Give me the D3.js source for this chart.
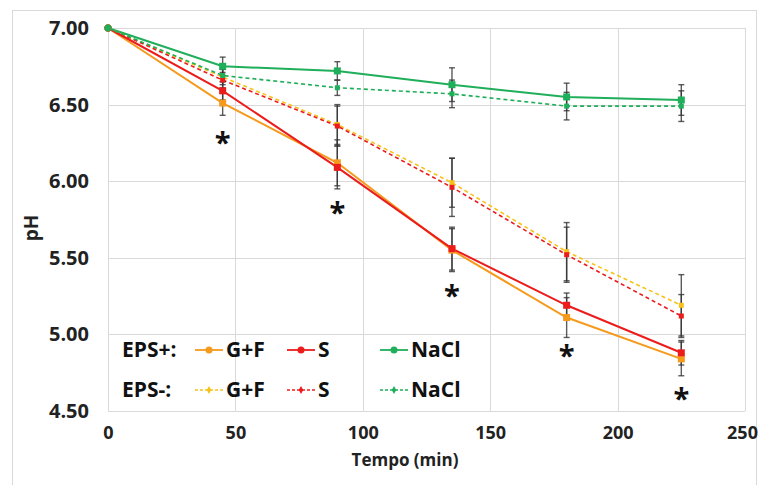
<!DOCTYPE html>
<html>
<head>
<meta charset="utf-8">
<script src="https://cdn.jsdelivr.net/npm/d3@7"></script>
<style>
    body { margin: 0; background: #fff; }
    svg { display: block; font-family: "Open Sans", sans-serif; font-weight: bold; }
</style>
</head>
<body>
<div id="chart"></div>
<script>
/*global d3*/
"use strict";

// time points (min)
var times = [0, 45, 90, 135, 180, 225];

// EPS+ series (pH)
var gfPlus = [7.00, 6.51, 6.12, 5.55, 5.11, 4.84];
var sPlus = [7.00, 6.59, 6.09, 5.56, 5.19, 4.88];
var naclPlus = [7.00, 6.75, 6.72, 6.63, 6.55, 6.53];
// EPS- series (pH)
var gfMinus = [7.00, 6.68, 6.37, 5.99, 5.54, 5.19];
var sMinus = [7.00, 6.66, 6.36, 5.96, 5.52, 5.12];
var naclMinus = [7.00, 6.69, 6.61, 6.57, 6.49, 6.49];

// standard deviations
var gfPlusErr = [0, 0.08, 0.15, 0.14, 0.13, 0.11];
var sPlusErr = [0, 0.06, 0.14, 0.14, 0.08, 0.08];
var naclPlusErr = [0, 0.06, 0.06, 0.11, 0.09, 0.10];
var gfMinusErr = [0, 0.05, 0.13, 0.16, 0.19, 0.20];
var sMinusErr = [0, 0.05, 0.13, 0.19, 0.18, 0.14];
var naclMinusErr = [0, 0.04, 0.05, 0.09, 0.09, 0.10];

// significance marks
var starTimes = [45, 90, 135, 180, 225];
var starPh = [6.29, 5.83, 5.29, 4.90, 4.62];

var xTicks = [0, 50, 100, 150, 200, 250];
var yTicks = [4.5, 5.0, 5.5, 6.0, 6.5, 7.0];

var seriesNames = ["G+F", "S", "NaCl"];

var width = 759;
var height = 485;
var margin = {top: 28, right: 14, bottom: 74, left: 108};
var plotW = width - margin.left - margin.right;
var plotH = height - margin.top - margin.bottom;

var x = d3.scaleLinear().domain([0, 250]).range([0, plotW]);
var y = d3.scaleLinear().domain([4.5, 7]).range([plotH, 0]);

var series = [
    {name: "G+F", group: "+", values: gfPlus, err: gfPlusErr, color: "#f59a1c", dashed: false},
    {name: "S", group: "+", values: sPlus, err: sPlusErr, color: "#ec1c1c", dashed: false},
    {name: "NaCl", group: "+", values: naclPlus, err: naclPlusErr, color: "#1fae5a", dashed: false},
    {name: "G+F", group: "-", values: gfMinus, err: gfMinusErr, color: "#f6c21a", dashed: true},
    {name: "S", group: "-", values: sMinus, err: sMinusErr, color: "#ec1c1c", dashed: true},
    {name: "NaCl", group: "-", values: naclMinus, err: naclMinusErr, color: "#1fae5a", dashed: true}
];

var svg = d3.select("#chart").append("svg")
    .attr("width", width)
    .attr("height", height);

// outer chart frame
svg.append("rect")
    .attr("x", 12.5).attr("y", 10.5)
    .attr("width", 744).attr("height", 490)
    .attr("fill", "none")
    .attr("stroke", "#d9d9d9");

var g = svg.append("g").attr("transform", "translate(" + margin.left + "," + margin.top + ")");

// grid
g.append("g").selectAll("line.h").data(yTicks).enter().append("line")
    .attr("x1", 0).attr("x2", plotW)
    .attr("y1", function (d) { return Math.round(y(d)) + 0.5; })
    .attr("y2", function (d) { return Math.round(y(d)) + 0.5; })
    .attr("stroke", "#d9d9d9");
g.append("g").selectAll("line.v").data(xTicks).enter().append("line")
    .attr("y1", 0).attr("y2", plotH)
    .attr("x1", function (d) { return Math.round(x(d)) + 0.5; })
    .attr("x2", function (d) { return Math.round(x(d)) + 0.5; })
    .attr("stroke", "#d9d9d9");

// axes (labels only)
var yAxis = g.append("g")
    .call(d3.axisLeft(y).tickValues(yTicks).tickSize(0).tickPadding(19).tickFormat(d3.format(".2f")));
yAxis.select(".domain").remove();
yAxis.selectAll("text").attr("font-size", 20).attr("font-family", "Open Sans").attr("font-weight", "bold").attr("fill", "#222");

var xAxis = g.append("g")
    .attr("transform", "translate(0," + plotH + ")")
    .call(d3.axisBottom(x).tickValues(xTicks).tickSize(0).tickPadding(15).tickFormat(d3.format("d")));
xAxis.select(".domain").remove();
xAxis.selectAll("text").attr("font-size", 18).attr("font-family", "Open Sans").attr("font-weight", "bold").attr("fill", "#222");
// keep the last label inside the window
xAxis.selectAll(".tick:last-of-type text").attr("dx", -3);

svg.append("text")
    .attr("x", 405).attr("y", 466)
    .attr("text-anchor", "middle")
    .attr("font-size", 17)
    .attr("fill", "#222")
    .text("Tempo (min)");

svg.append("text")
    .attr("transform", "translate(38,228) rotate(-90)")
    .attr("text-anchor", "middle")
    .attr("font-size", 19)
    .attr("fill", "#222")
    .text("pH");

var line = d3.line()
    .x(function (d, i) { return x(times[i]); })
    .y(function (d) { return y(d); });

// lines
series.forEach(function (s) {
    g.append("path")
        .datum(s.values)
        .attr("fill", "none")
        .attr("stroke", s.color)
        .attr("stroke-width", s.dashed ? 1.6 : 2)
        .attr("stroke-dasharray", s.dashed ? "4,3" : null)
        .attr("d", line);
});

// error bars
series.forEach(function (s) {
    var eg = g.append("g").attr("stroke", "#333").attr("stroke-opacity", 0.8).attr("stroke-width", 1.4);
    s.values.forEach(function (v, i) {
        if (!s.err[i]) {
            return;
        }
        var cx = x(times[i]);
        eg.append("line")
            .attr("x1", cx).attr("x2", cx)
            .attr("y1", y(v + s.err[i])).attr("y2", y(v - s.err[i]));
        [v + s.err[i], v - s.err[i]].forEach(function (e) {
            eg.append("line")
                .attr("x1", cx - 3).attr("x2", cx + 3)
                .attr("y1", y(e)).attr("y2", y(e));
        });
    });
});

// markers
series.forEach(function (s) {
    var mg = g.append("g").attr("fill", s.color);
    s.values.forEach(function (v, i) {
        if (i === 0) {
            mg.append("circle").attr("cx", x(times[i])).attr("cy", y(v)).attr("r", 3.5);
        } else {
            var sz = s.dashed ? 5 : 7;
            mg.append("rect")
                .attr("x", x(times[i]) - sz / 2).attr("y", y(v) - sz / 2)
                .attr("width", sz).attr("height", sz);
        }
    });
});

// asterisks
g.selectAll(".star").data(starTimes).enter().append("text")
    .attr("class", "star")
    .attr("x", function (d) { return x(d); })
    .attr("y", function (d, i) { return y(starPh[i]); })
    .attr("dy", 16)
    .attr("text-anchor", "middle")
    .attr("font-size", 29)
    .attr("fill", "#111")
    .text("*");

// legend
var legendRows = [{label: "EPS+:", group: "+", yPos: 350}, {label: "EPS-:", group: "-", yPos: 390}];
var legendX = [195, 287, 380];
legendRows.forEach(function (row) {
    svg.append("text")
        .attr("x", 122).attr("y", row.yPos)
        .attr("dy", "0.35em")
        .attr("font-size", 21)
        .attr("fill", "#111")
        .text(row.label);
    series.filter(function (s) { return s.group === row.group; }).forEach(function (s) {
        var lx = legendX[seriesNames.indexOf(s.name)];
        svg.append("line")
            .attr("x1", lx).attr("x2", lx + 28)
            .attr("y1", row.yPos).attr("y2", row.yPos)
            .attr("stroke", s.color)
            .attr("stroke-width", s.dashed ? 1.3 : 1.8)
            .attr("stroke-dasharray", s.dashed ? "3,2" : null);
        if (s.dashed) {
            svg.append("path")
                .attr("d", d3.symbol(d3.symbolDiamond, 18)())
                .attr("transform", "translate(" + (lx + 14) + "," + row.yPos + ")")
                .attr("fill", s.color);
        } else {
            svg.append("circle")
                .attr("cx", lx + 14).attr("cy", row.yPos).attr("r", 3.5)
                .attr("fill", s.color);
        }
        svg.append("text")
            .attr("x", lx + 31).attr("y", row.yPos)
            .attr("dy", "0.35em")
            .attr("font-size", 21)
            .attr("fill", "#111")
            .text(s.name);
    });
});
</script>
</body>
</html>
